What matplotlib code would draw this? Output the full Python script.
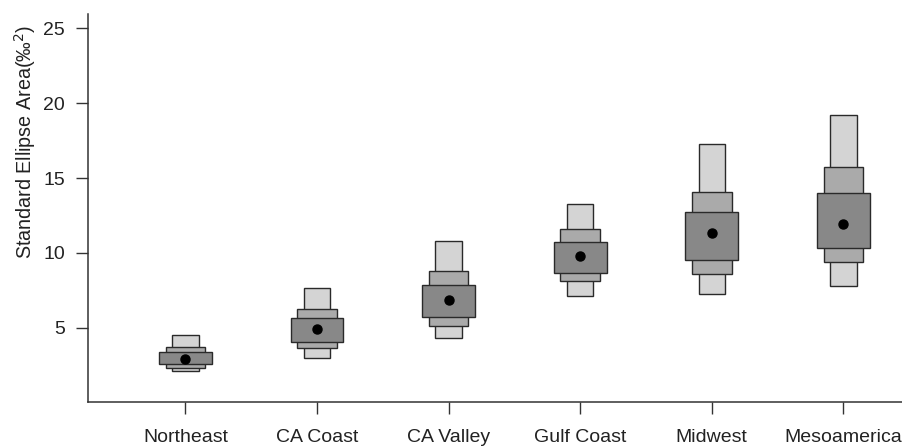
import matplotlib
matplotlib.use("Agg")
import matplotlib.pyplot as plt

plt.rcParams['font.family'] = ['Liberation Sans', 'DejaVu Sans']

# регионы и оценки (мода + интервалы 50/75/95 %)
groups = ['Northeast', 'CA Coast', 'CA Valley', 'Gulf Coast', 'Midwest', 'Mesoamerica']
mode = [2.94, 4.89, 6.83, 9.82, 11.33, 11.91]
lo50 = [2.58, 4.07, 5.70, 8.67, 9.54, 10.35]
hi50 = [3.41, 5.62, 7.88, 10.71, 12.72, 14.00]
lo75 = [2.34, 3.67, 5.11, 8.12, 8.61, 9.38]
hi75 = [3.74, 6.28, 8.82, 11.57, 14.10, 15.71]
lo95 = [2.08, 3.01, 4.34, 7.14, 7.28, 7.79]
hi95 = [4.49, 7.66, 10.78, 13.27, 17.30, 19.21]
yticks = [5, 10, 15, 20, 25]

fig = plt.figure(figsize=(9.02, 4.46), dpi=100)
ax = fig.add_axes([88 / 902, 44 / 446, (940.8 - 88) / 902, (402 - 14) / 446])

x = list(range(1, len(groups) + 1))
edge = '#2a2a2a'

def hdr_box(lo, hi, w, col):
    h = [b - a for a, b in zip(lo, hi)]
    ax.bar(x, h, bottom=lo, width=w, color=col, edgecolor=edge, linewidth=1.0, zorder=2)

hdr_box(lo95, hi95, 0.2, '#d4d4d4')
hdr_box(lo75, hi75, 0.3, '#aaaaaa')
hdr_box(lo50, hi50, 0.4, '#888888')
ax.plot(x, mode, 'o', color='black', markersize=6.5, zorder=3)

ax.set_xlim(0.26, 6.74)
ax.set_ylim(0.04, 25.96)
ax.set_xticks(x)
ax.set_xticklabels(groups)
ax.set_yticks(yticks)

for s in ['top', 'right']:
    ax.spines[s].set_visible(False)
for s in ['left', 'bottom']:
    ax.spines[s].set_color('#333333')
    ax.spines[s].set_linewidth(1.1)

ax.tick_params(axis='both', length=8.5, width=1.0, color='#333333', labelsize=14, labelcolor='#222222')
ax.tick_params(axis='y', pad=8)
ax.tick_params(axis='x', pad=11)

fig.text(25 / 902, 1 - 142 / 446, 'Standard Ellipse Area(‰$^{2}$)', rotation=90,
         ha='center', va='center', fontsize=14.2, color='#222222')

fig.savefig('out.png', dpi=100)
